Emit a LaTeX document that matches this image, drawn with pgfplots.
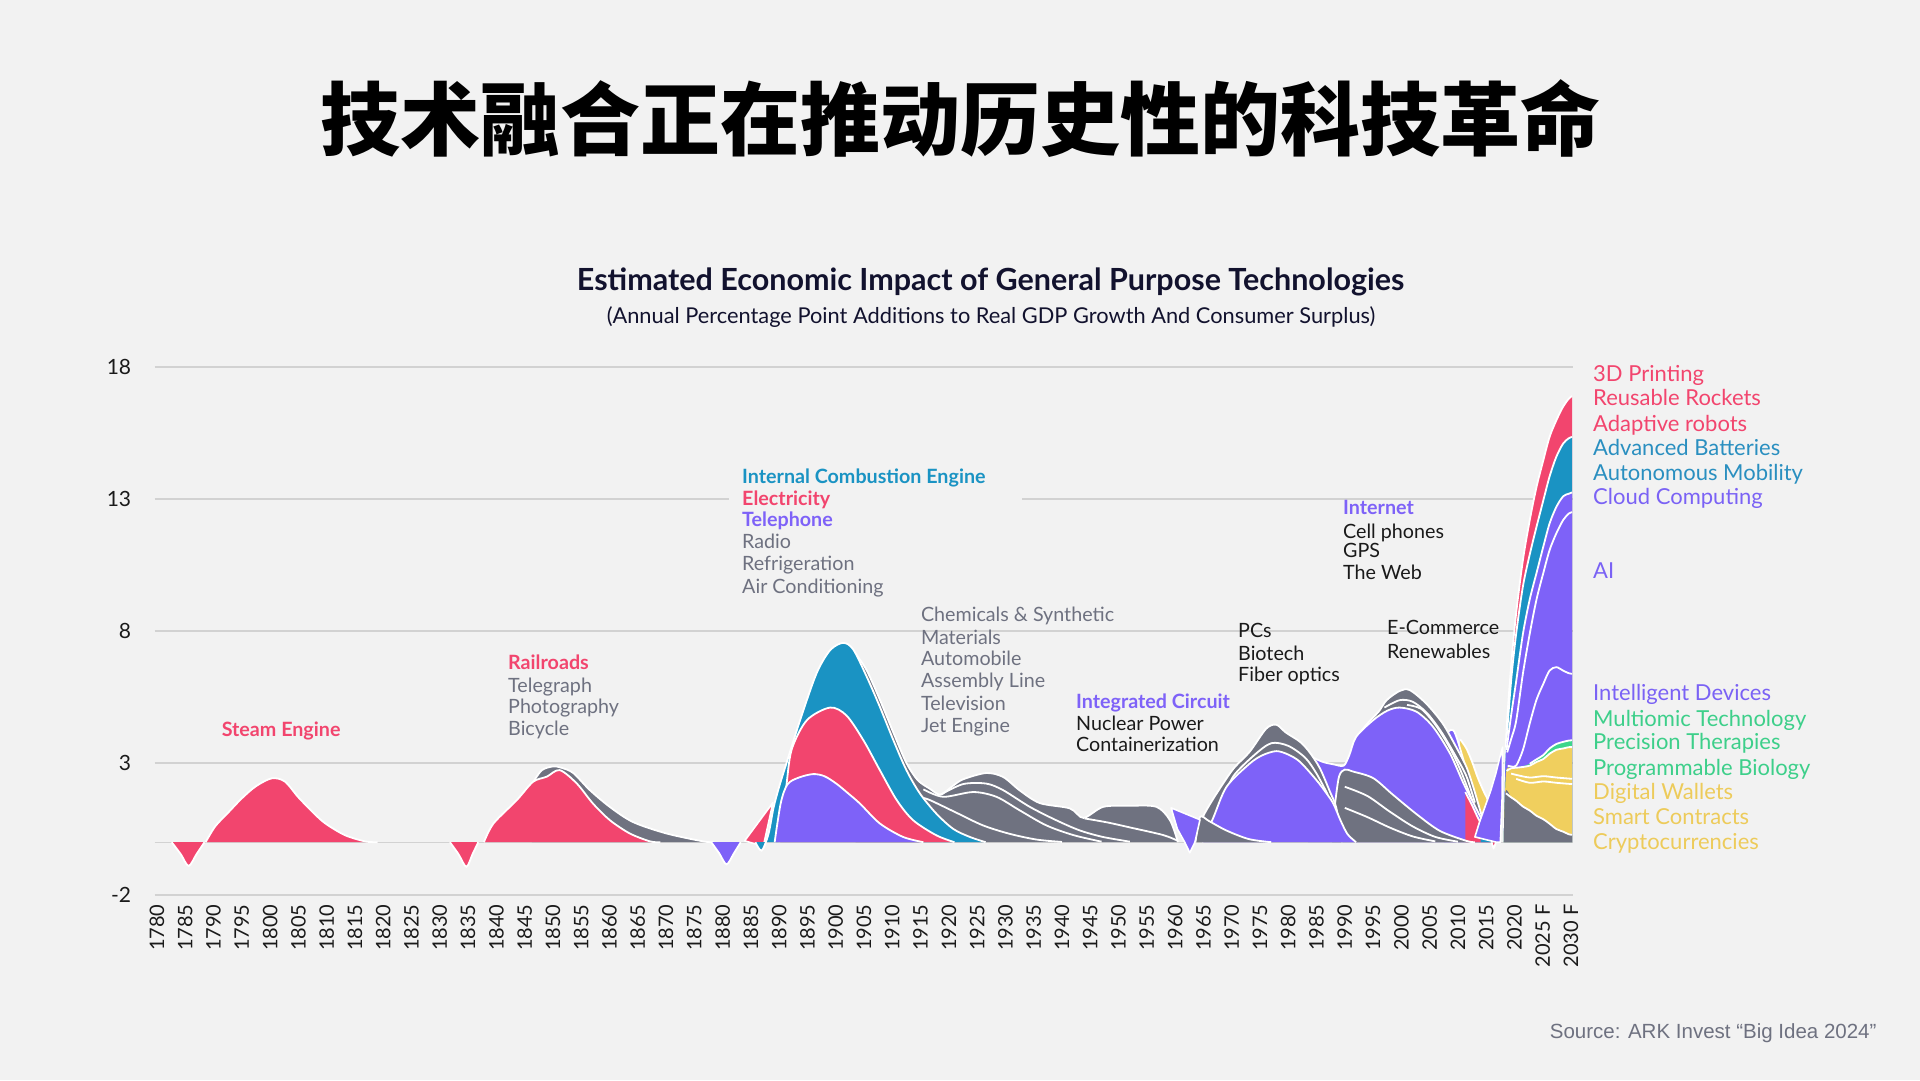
\documentclass[border=0pt]{standalone}
\usepackage{pgfplots}
\pgfplotsset{compat=1.18}
\usepackage{fontspec}
\setmainfont{Lato}
\newfontfamily\cjk{Noto Sans CJK SC}
\newfontfamily\srcfont{Liberation Sans}
\definecolor{bg}{HTML}{F2F2F2}
\definecolor{cRed}{HTML}{F2456E}
\definecolor{cBlue}{HTML}{1A93C3}
\definecolor{cPurple}{HTML}{7E62F8}
\definecolor{cGrey}{HTML}{6F7280}
\definecolor{cGreen}{HTML}{3DD68C}
\definecolor{cYellow}{HTML}{F0CF5E}
\definecolor{tGrey}{HTML}{6E7180}
\definecolor{tBlack}{HTML}{1A1A1A}
\definecolor{tNavy}{HTML}{12122E}
\definecolor{gridc}{HTML}{D2D2D2}
\definecolor{lRed}{HTML}{F2456E}
\definecolor{lBlue}{HTML}{2A8FC0}
\definecolor{lPurple}{HTML}{7A62F5}
\definecolor{lGreen}{HTML}{3DCF8A}
\definecolor{lYellow}{HTML}{EDCB5A}
\pgfplotsset{sep/.style={draw=white,line width=1.8pt,smooth,tension=0.5,forget plot}}
\newcommand{\layer}[2]{%
  \addplot[fill=#1,draw=none,smooth,tension=0.5,forget plot] coordinates {#2} \closedcycle;
  \addplot[sep] coordinates {#2};}
\newcommand{\layerF}[2]{%
  \addplot[fill=#1,draw=none,smooth,tension=0.5,forget plot] coordinates {#2} \closedcycle;}
\newcommand{\wline}[1]{\addplot[sep] coordinates {#1};}
\newcommand{\poly}[2]{\addplot[fill=#1,draw=white,line width=1.6pt,line join=round,forget plot] coordinates {#2} --cycle;}
\begin{document}
\begin{tikzpicture}[x=1pt,y=1pt]
\path[use as bounding box] (0pt,0pt) rectangle (1920pt,1080pt);
\fill[bg] (0pt,0pt) rectangle (1920pt,1080pt);
\begin{axis}[
  at={(154.7pt,185pt)}, anchor=south west,
  width=1418.6pt, height=528pt, scale only axis,
  xmin=1779.6, xmax=2030.4, ymin=-2, ymax=18,
  axis line style={draw=none}, major tick length=0pt,
  ytick={-2,3,8,13,18}, yticklabels={-2,3,8,13,18},
  ymajorgrids, grid style={draw=gridc,line width=1.4pt},
  extra y ticks={0}, extra y tick labels={}, extra y tick style={grid=major},
  xtick={1780,1785,...,2030},
  xticklabels={1780,1785,1790,1795,1800,1805,1810,1815,1820,1825,1830,1835,1840,1845,1850,1855,1860,1865,1870,1875,1880,1885,1890,1895,1900,1905,1910,1915,1920,1925,1930,1935,1940,1945,1950,1955,1960,1965,1970,1975,1980,1985,1990,1995,2000,2005,2010,2015,2020,{2025 F},{2030 F}},
  x tick label style={rotate=90,anchor=east,font=\fontsize{20}{22}\selectfont,text=tBlack,xshift=-6pt},
  y tick label style={font=\fontsize{21}{24}\selectfont,text=tBlack,xshift=-20pt},
  clip=false,
]
% ---------- Era 1: steam engine ----------
\layer{cRed}{(1782.6,0)(1784.2,-0.45)(1785.6,-0.9)(1787,-0.45)(1788.4,0)}
\layer{cRed}{(1788.6,0)(1790.3,0.6)(1792.5,1.1)(1795,1.66)(1797.5,2.12)(1800.3,2.42)(1802.6,2.3)(1805,1.7)(1807.5,1.15)(1809.7,0.72)(1813.2,0.27)(1816.8,0.03)(1819,0)}
% ---------- Era 2: railroads ----------
\layer{cRed}{(1831.8,0)(1833.3,-0.45)(1834.7,-0.93)(1835.8,-0.45)(1836.8,0)}
\layer{cGrey}{(1846.3,2.2)(1848,2.72)(1850,2.87)(1851.5,2.82)(1853.6,2.62)(1856.5,1.98)(1860.1,1.33)(1864.2,0.76)(1870.1,0.33)(1876.6,0.03)(1878.5,0)}
\layer{cRed}{(1837.8,0)(1839.5,0.71)(1843.6,1.59)(1846.5,2.29)(1848.9,2.48)(1851.2,2.73)(1854.2,2.23)(1857.1,1.46)(1860.1,0.83)(1863.6,0.33)(1867.2,0.03)(1869,0)}
\layer{cPurple}{(1878,0)(1879.4,-0.42)(1880.7,-0.84)(1882,-0.42)(1883.2,0)}
% ---------- Era 3: 1885-1960 ----------
\layer{cGrey}{(1903.5,7.15)(1905.5,6.5)(1907.8,5.4)(1910.2,4.15)(1912.5,3.0)(1914.5,2.35)(1916.6,2.03)(1918.5,1.8)(1920.5,2.1)(1922.5,2.38)(1926.6,2.62)(1929.6,2.47)(1932.6,1.95)(1936.1,1.48)(1941.4,1.28)(1943.8,0.92)(1947.3,1.34)(1952,1.38)(1956.7,1.34)(1959.1,0.83)(1960.5,0)}
\wline{(1918.5,1.8)(1922.5,2.2)(1926.6,2.22)(1929.6,1.97)(1934.3,1.34)(1939,0.83)(1943.1,0.45)(1947.2,0.2)(1952,0.02)}
\wline{(1915.5,2.0)(1919,1.72)(1924.3,1.9)(1928.4,1.72)(1932.5,1.21)(1937.2,0.64)(1942,0.27)(1947,0.02)}
\wline{(1915,1.7)(1916.6,1.6)(1921.3,1.12)(1926,0.64)(1930.7,0.32)(1935.5,0.1)(1940,0.01)}
\wline{(1944,0.9)(1948,0.75)(1952,0.56)(1957.9,0.27)(1960.5,0.05)}
\poly{cRed}{(1883.9,0.05)(1888.9,1.5)(1887.2,-0.15)}
\layer{cBlue}{(1885.8,0)(1886.9,-0.32)(1888.1,0.3)(1889,1.3)(1890,2.1)(1891.3,3.0)(1893.7,4.62)(1896.6,6.39)(1899,7.27)(1901.3,7.55)(1903.1,7.3)(1905.5,6.26)(1907.8,5.13)(1910.2,3.86)(1912.5,2.73)(1914.9,1.84)(1917.8,1.08)(1920.8,0.5)(1923.7,0.2)(1926.5,0)}
\layer{cRed}{(1890,0)(1891.2,2.0)(1892.2,3.5)(1894.9,4.62)(1899,5.1)(1901.9,4.8)(1904.9,3.86)(1907.8,2.73)(1910.8,1.59)(1913.7,0.83)(1917.8,0.26)(1921,0)}
\layer{cPurple}{(1889.2,0)(1890.3,1.5)(1891.5,2.2)(1893.5,2.45)(1896,2.58)(1898,2.5)(1900.1,2.22)(1902.2,1.85)(1904.3,1.46)(1907.8,0.71)(1911.9,0.2)(1915.5,0)}
% ---------- Era 4/5: 1960-2017 ----------
\layer{cYellow}{(2010.4,3.9)(2011.5,3.55)(2012.5,3.05)(2013.5,2.45)(2014.5,1.95)(2015.5,1.5)(2016.5,0.8)(2017.2,0)}
\layer{cPurple}{(2007.5,4.0)(2009.2,4.24)(2011,3.1)(2012.3,2.1)(2013.3,1.45)(2014.3,0.9)(2015.3,0.5)(2016,0)}
\layer{cGrey}{(1991.8,3.9)(1994,4.5)(1996,4.95)(1997.4,5.38)(1999.7,5.73)(2001.5,5.76)(2004.4,5.25)(2007.3,4.5)(2009.7,3.6)(2011.5,2.85)(2012.7,2.1)(2013.6,1.45)(2014.5,0.8)(2015.5,0.2)(2016.2,0)}
\wline{(1997,5.1)(1999.7,5.38)(2002,5.32)(2004.5,4.9)(2007,4.2)(2009.5,3.3)(2011.5,2.5)(2013,1.5)}
\wline{(2001,5.2)(2003.5,5.05)(2006,4.45)(2008.5,3.6)(2010.5,2.7)(2012.5,1.6)}
\layer{cPurple}{(1983.5,3.3)(1986,3.05)(1988,2.95)(1989.8,2.9)(1990.8,3.3)(1992,3.99)(1995,4.62)(1997.5,4.98)(1999.7,5.1)(2002.7,4.94)(2005.6,4.37)(2008.6,3.36)(2011,2.22)(2012.8,1.46)(2014,0.96)(2015.2,0.58)(2016,0.2)(2016.6,0)}
\layer{cRed}{(2011.3,1.9)(2012.5,1.4)(2013.6,0.9)(2014.8,0.45)(2015.8,0.1)(2016.3,-0.22)(2016.7,0)}
\layer{cBlue}{(2014,0.9)(2015,1.0)(2016,0.75)(2016.7,0.45)(2017.2,0)}
\poly{cPurple}{(2013.0,0.2)(2013.8,0.75)(2014.8,1.35)(2015.8,1.95)(2016.7,2.6)(2017.4,3.2)(2017.9,3.6)(2017.8,1.6)(2017.5,0)(2016.8,0)}
\layer{cGrey}{(1987.5,0)(1988.3,1.5)(1989,2.5)(1990,2.75)(1991.4,2.68)(1995,2.43)(1998.5,1.8)(2002.7,1.06)(2006.8,0.43)(2011.5,0.05)(2013,0)}
\wline{(1990,2.1)(1994,1.75)(1998,1.15)(2002,0.6)(2006,0.2)(2010,0.02)}
\wline{(1990,1.3)(1994,0.95)(1998,0.55)(2002,0.22)(2006,0.03)}
\layer{cGrey}{(1963.8,0.5)(1965.5,1.2)(1967.5,1.9)(1970.3,2.78)(1973.2,3.43)(1976.1,4.3)(1977.9,4.45)(1979.6,4.15)(1982.1,3.8)(1983.8,3.4)(1985.6,2.8)(1987.4,1.9)(1988.5,1.3)(1989.5,0)}
\wline{(1968.5,1.6)(1970.3,2.5)(1974,3.3)(1977,3.75)(1980,3.65)(1983,3.2)(1985,2.6)(1987,1.8)}
\layer{cPurple}{(1964.8,0)(1966.7,0.9)(1969.1,2.1)(1973.2,2.98)(1975.5,3.3)(1977.9,3.45)(1980,3.32)(1982.1,3.04)(1985,2.35)(1986.8,1.84)(1988,1.45)(1989.3,0.8)(1990.5,0.3)(1992,0)}
\layer{cGrey}{(1963.6,0)(1964.4,0.95)(1966,0.8)(1969,0.45)(1973,0.12)(1977,0)}
\poly{cPurple}{(1959.3,1.3)(1964.4,0.85)(1963.5,0)(1962.6,-0.4)(1961.7,0)(1960.4,0.5)}
% ---------- Era 6: 2018-2030 ----------
\layer{cRed}{(2018.1,0)(2018.5,3.8)(2019.4,6.66)(2020.3,8.68)(2021.5,10.7)(2022.7,12.2)(2023.9,13.46)(2025.1,14.47)(2026.2,15.35)(2027.4,15.98)(2028.6,16.5)(2029.6,16.8)(2030.2,16.9)}
\layerF{cBlue}{(2018.1,0)(2018.5,3.6)(2019.4,6.1)(2020.3,7.9)(2021.5,9.7)(2022.7,10.9)(2023.9,11.95)(2025.1,12.95)(2026.2,13.85)(2027.4,14.6)(2028.6,15.1)(2029.6,15.3)(2030.2,15.35)}
\wline{(2018.5,3.6)(2019.4,6.1)(2020.3,7.9)(2021.5,9.7)(2022.7,10.9)(2023.9,11.95)(2025.1,12.95)(2026.2,13.85)(2027.4,14.6)(2028.6,15.1)(2029.6,15.3)(2030.2,15.35)}
\layerF{cPurple}{(2018.1,0)(2018.5,3.4)(2019.4,4.8)(2020.3,6.1)(2021.5,7.9)(2022.7,9.2)(2023.9,10.2)(2025.1,11.2)(2026.2,12.07)(2027.4,12.7)(2028.6,13.1)(2029.6,13.2)(2030.2,13.25)}
\wline{(2018.6,3.5)(2019.4,4.8)(2020.3,6.1)(2021.5,7.9)(2022.7,9.2)(2023.9,10.2)(2025.1,11.2)(2026.2,12.07)(2027.4,12.7)(2028.6,13.1)(2029.6,13.2)(2030.2,13.25)}
\wline{(2018.7,3.4)(2019.4,3.9)(2020.3,4.6)(2021.5,6.4)(2022.7,7.9)(2023.9,9.2)(2025.1,10.2)(2026.2,11.06)(2027.4,11.7)(2028.6,12.2)(2029.6,12.45)(2030.2,12.5)}
\wline{(2018.8,2.9)(2019.4,2.87)(2020.3,2.9)(2021.5,3.5)(2022.7,4.5)(2023.9,5.4)(2025.1,6.0)(2026.2,6.5)(2027.4,6.63)(2028.6,6.5)(2029.6,6.4)(2030.2,6.38)}
\layerF{cGreen}{(2018.1,0)(2018.5,2.6)(2019.4,2.8)(2020.3,2.83)(2021.5,2.88)(2022.7,2.97)(2023.9,3.14)(2025.1,3.3)(2026.2,3.55)(2027.4,3.72)(2028.6,3.8)(2029.6,3.85)(2030.2,3.86)}
\layerF{cYellow}{(2018.1,0)(2018.5,2.6)(2019.4,2.8)(2020.3,2.82)(2021.5,2.85)(2022.7,2.9)(2023.9,3.04)(2025.1,3.15)(2026.2,3.35)(2027.4,3.5)(2028.6,3.55)(2029.6,3.6)(2030.2,3.6)}
\wline{(2018.6,2.7)(2019.4,2.8)(2020.3,2.82)(2021.5,2.85)(2022.7,2.9)(2023.9,3.04)(2025.1,3.15)(2026.2,3.35)(2027.4,3.5)(2028.6,3.55)(2029.6,3.6)(2030.2,3.6)}
\wline{(2022.7,2.97)(2023.9,3.14)(2025.1,3.3)(2026.2,3.55)(2027.4,3.72)(2028.6,3.8)(2029.6,3.85)(2030.2,3.86)}
\wline{(2019.4,2.6)(2020.3,2.55)(2022.7,2.45)(2025.1,2.5)(2027.4,2.45)(2030.2,2.4)}
\wline{(2020.3,2.4)(2022.7,2.25)(2025.1,2.3)(2027.4,2.25)(2030.2,2.2)}
\layerF{cGrey}{(2018.1,0)(2018.4,1.9)(2019.4,1.7)(2020.3,1.57)(2021.5,1.35)(2022.7,1.2)(2023.9,1.0)(2025.1,0.87)(2026.2,0.7)(2027.4,0.5)(2028.6,0.4)(2029.6,0.3)(2030.2,0.28)}
\wline{(2018.5,1.85)(2019.4,1.7)(2020.3,1.57)(2021.5,1.35)(2022.7,1.2)(2023.9,1.0)(2025.1,0.87)(2026.2,0.7)(2027.4,0.5)(2028.6,0.4)(2029.6,0.3)(2030.2,0.28)}
\end{axis}
% gap in the 13 grid line behind the ICE label
\fill[bg] (729pt,576pt) rectangle (1022pt,584pt);
% titles
\node at (960pt,961pt) {\cjk\bfseries\fontsize{80}{90}\selectfont 技术融合正在推动历史性的科技革命};
\node[text=tNavy] at (990.6pt,798pt) {\bfseries\fontsize{30.5}{33}\selectfont Estimated Economic Impact of General Purpose Technologies};
\node[text=tNavy] at (991pt,763pt) {\fontsize{21.8}{24}\selectfont (Annual Percentage Point Additions to Real GDP Growth And Consumer Surplus)};
\node[anchor=base east,text=tGrey] at (1880pt,42pt) {\srcfont\fontsize{20.5}{23}\selectfont Source: ARK Invest “Big Idea 2024”};
% in-chart labels
\tikzset{lab/.style={anchor=base west,inner sep=0pt,font=\fontsize{19.7}{22}\selectfont}}
\node[lab,text=cRed] at (221.6pt,343pt) {\bfseries Steam Engine};
\node[lab,text=cRed] at (508pt,410pt) {\bfseries Railroads};
\node[lab,text=tGrey] at (508pt,387pt) {Telegraph};
\node[lab,text=tGrey] at (508pt,366pt) {Photography};
\node[lab,text=tGrey] at (508pt,344pt) {Bicycle};
\node[lab,text=cBlue] at (742pt,596.4pt) {\bfseries Internal Combustion Engine};
\node[lab,text=cRed] at (742pt,574.4pt) {\bfseries Electricity};
\node[lab,text=cPurple] at (742pt,553.6pt) {\bfseries Telephone};
\node[lab,text=tGrey] at (742pt,531.5pt) {Radio};
\node[lab,text=tGrey] at (742pt,509.5pt) {Refrigeration};
\node[lab,text=tGrey] at (742pt,486.2pt) {Air Conditioning};
\node[lab,text=tGrey] at (920.8pt,458pt) {Chemicals \& Synthetic};
\node[lab,text=tGrey] at (920.8pt,435pt) {Materials};
\node[lab,text=tGrey] at (920.8pt,414pt) {Automobile};
\node[lab,text=tGrey] at (920.8pt,392pt) {Assembly Line};
\node[lab,text=tGrey] at (920.8pt,369pt) {Television};
\node[lab,text=tGrey] at (920.8pt,347pt) {Jet Engine};
\node[lab,text=cPurple] at (1076pt,371pt) {\bfseries Integrated Circuit};
\node[lab,text=tBlack] at (1076pt,349pt) {Nuclear Power};
\node[lab,text=tBlack] at (1076pt,328pt) {Containerization};
\node[lab,text=tBlack] at (1238pt,442pt) {PCs};
\node[lab,text=tBlack] at (1238pt,419pt) {Biotech};
\node[lab,text=tBlack] at (1238pt,398pt) {Fiber optics};
\node[lab,text=cPurple] at (1343pt,565pt) {\bfseries Internet};
\node[lab,text=tBlack] at (1343pt,541pt) {Cell phones};
\node[lab,text=tBlack] at (1343pt,522pt) {GPS};
\node[lab,text=tBlack] at (1343pt,500pt) {The Web};
\node[lab,text=tBlack] at (1387pt,445pt) {E-Commerce};
\node[lab,text=tBlack] at (1387pt,421pt) {Renewables};
% right-hand labels
\tikzset{rlab/.style={anchor=base west,inner sep=0pt,font=\fontsize{22}{24}\selectfont}}
\node[rlab,text=lRed] at (1593pt,698pt) {3D Printing};
\node[rlab,text=lRed] at (1593pt,674pt) {Reusable Rockets};
\node[rlab,text=lRed] at (1593pt,648pt) {Adaptive robots};
\node[rlab,text=lBlue] at (1593pt,624pt) {Advanced Batteries};
\node[rlab,text=lBlue] at (1593pt,599pt) {Autonomous Mobility};
\node[rlab,text=lPurple] at (1593pt,575pt) {Cloud Computing};
\node[rlab,text=lPurple] at (1593pt,501pt) {AI};
\node[rlab,text=lPurple] at (1593pt,379pt) {Intelligent Devices};
\node[rlab,text=lGreen] at (1593pt,353pt) {Multiomic Technology};
\node[rlab,text=lGreen] at (1593pt,330pt) {Precision Therapies};
\node[rlab,text=lGreen] at (1593pt,304pt) {Programmable Biology};
\node[rlab,text=lYellow] at (1593pt,280pt) {Digital Wallets};
\node[rlab,text=lYellow] at (1593pt,255pt) {Smart Contracts};
\node[rlab,text=lYellow] at (1593pt,231pt) {Cryptocurrencies};
\end{tikzpicture}
\end{document}
